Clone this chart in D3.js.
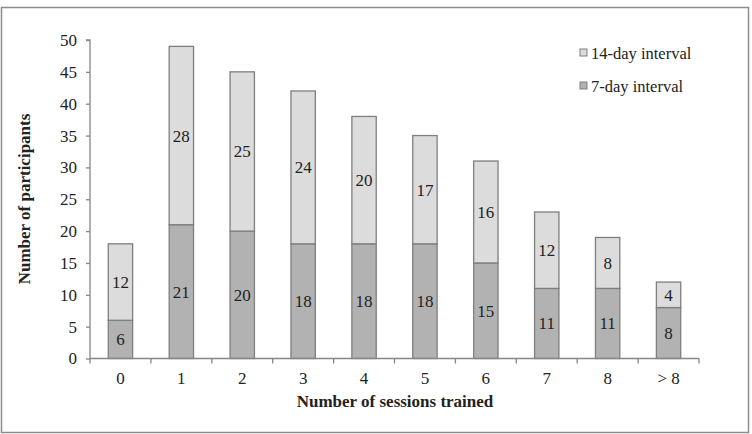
<!DOCTYPE html>
<html><head><meta charset="utf-8">
<script src="https://cdn.jsdelivr.net/npm/d3@7"></script>
<style>body{margin:0;background:#fff}svg{display:block}</style>
</head><body><svg id="c" width="752" height="434"></svg>
<script>
const categories = ["0","1","2","3","4","5","6","7","8","> 8"];
const sevenDay = [6,21,20,18,18,18,15,11,11,8];
const fourteenDay = [12,28,25,24,20,17,16,12,8,4];
const yTicks = [0,5,10,15,20,25,30,35,40,45,50];
const seriesNames = ["7-day interval","14-day interval"];
const colors = ["#b2b2b2","#dcdcdc"];

const svg = d3.select("#c");
const font = "'Liberation Serif','Times New Roman',serif";
svg.append("rect").attr("x",1.5).attr("y",7.5).attr("width",747).attr("height",425)
  .attr("fill","#fff").attr("stroke","#8c8c8c").attr("stroke-width",1.5);

const x0 = 90, x1 = 699, yTop = 40, yBot = 358.5;
const x = d3.scaleBand().domain(categories).range([x0,x1]).paddingInner(0.6).paddingOuter(0.3);
const xb = d3.scaleBand().domain(categories).range([x0,x1]);
const y = d3.scaleLinear().domain([0,50]).range([yBot,yTop]);

const data = categories.map((c,i)=>({c, s:[sevenDay[i], fourteenDay[i]]}));
const stack = d3.stack().keys([0,1]).value((d,k)=>d.s[k]);
const layers = stack(data);

const g = svg.append("g");
layers.forEach((layer,li)=>{
  g.selectAll(null).data(layer).enter().append("rect")
    .attr("x",d=>x(d.data.c)).attr("width",x.bandwidth())
    .attr("y",d=>y(d[1])).attr("height",d=>y(d[0])-y(d[1]))
    .attr("fill",colors[li]).attr("stroke","#7f7f7f").attr("stroke-width",1.3);
  g.selectAll(null).data(layer).enter().append("text")
    .attr("x",d=>x(d.data.c)+x.bandwidth()/2)
    .attr("y",d=>(y(d[0])+y(d[1]))/2).attr("dy","0.35em")
    .attr("text-anchor","middle").attr("font-family",font).attr("font-size",17).attr("fill","#222")
    .text(d=>d[1]-d[0]);
});

// y axis
const ya = svg.append("g").attr("transform",`translate(${x0},0)`)
  .call(d3.axisLeft(y).tickValues(yTicks).tickSize(4).tickPadding(9));
ya.select(".domain").attr("stroke","#868686").attr("stroke-width",1.3).attr("d",`M-4,${yTop}H0V${yBot}`);
ya.selectAll(".tick line").attr("stroke","#868686").attr("stroke-width",1.3);
ya.selectAll("text").attr("font-family",font).attr("font-size",17).attr("fill","#222");

// x axis
const xa = svg.append("g").attr("transform",`translate(0,${yBot})`)
  .call(d3.axisBottom(xb).tickSize(0).tickPadding(13));
xa.select(".domain").attr("stroke","#868686").attr("stroke-width",1.3).attr("d",`M${x0},0H${x1}`);
xa.selectAll("text").attr("font-family",font).attr("font-size",17).attr("fill","#222");
xa.selectAll(null).data(categories.concat(["end"])).enter().append("line")
  .attr("x1",(d,i)=>x0+i*xb.step()).attr("x2",(d,i)=>x0+i*xb.step())
  .attr("y1",0).attr("y2",5).attr("stroke","#868686").attr("stroke-width",1.3);

// titles
svg.append("text").attr("x",395).attr("y",407).attr("text-anchor","middle")
  .attr("font-family",font).attr("font-weight","bold").attr("font-size",17).attr("fill","#222")
  .text("Number of sessions trained");
svg.append("text").attr("transform","translate(30,199) rotate(-90)").attr("text-anchor","middle")
  .attr("font-family",font).attr("font-weight","bold").attr("font-size",17).attr("fill","#222")
  .text("Number of participants");

// legend
const leg = [{n:seriesNames[1],c:colors[1],y:53},{n:seriesNames[0],c:colors[0],y:86}];
leg.forEach(l=>{
  svg.append("rect").attr("x",580).attr("y",l.y-4).attr("width",7).attr("height",7)
    .attr("fill",l.c).attr("stroke","#7f7f7f").attr("stroke-width",1);
  svg.append("text").attr("x",591).attr("y",l.y).attr("dy","0.35em")
    .attr("font-family",font).attr("font-size",16.5).attr("fill","#222").text(l.n);
});
</script></body></html>
